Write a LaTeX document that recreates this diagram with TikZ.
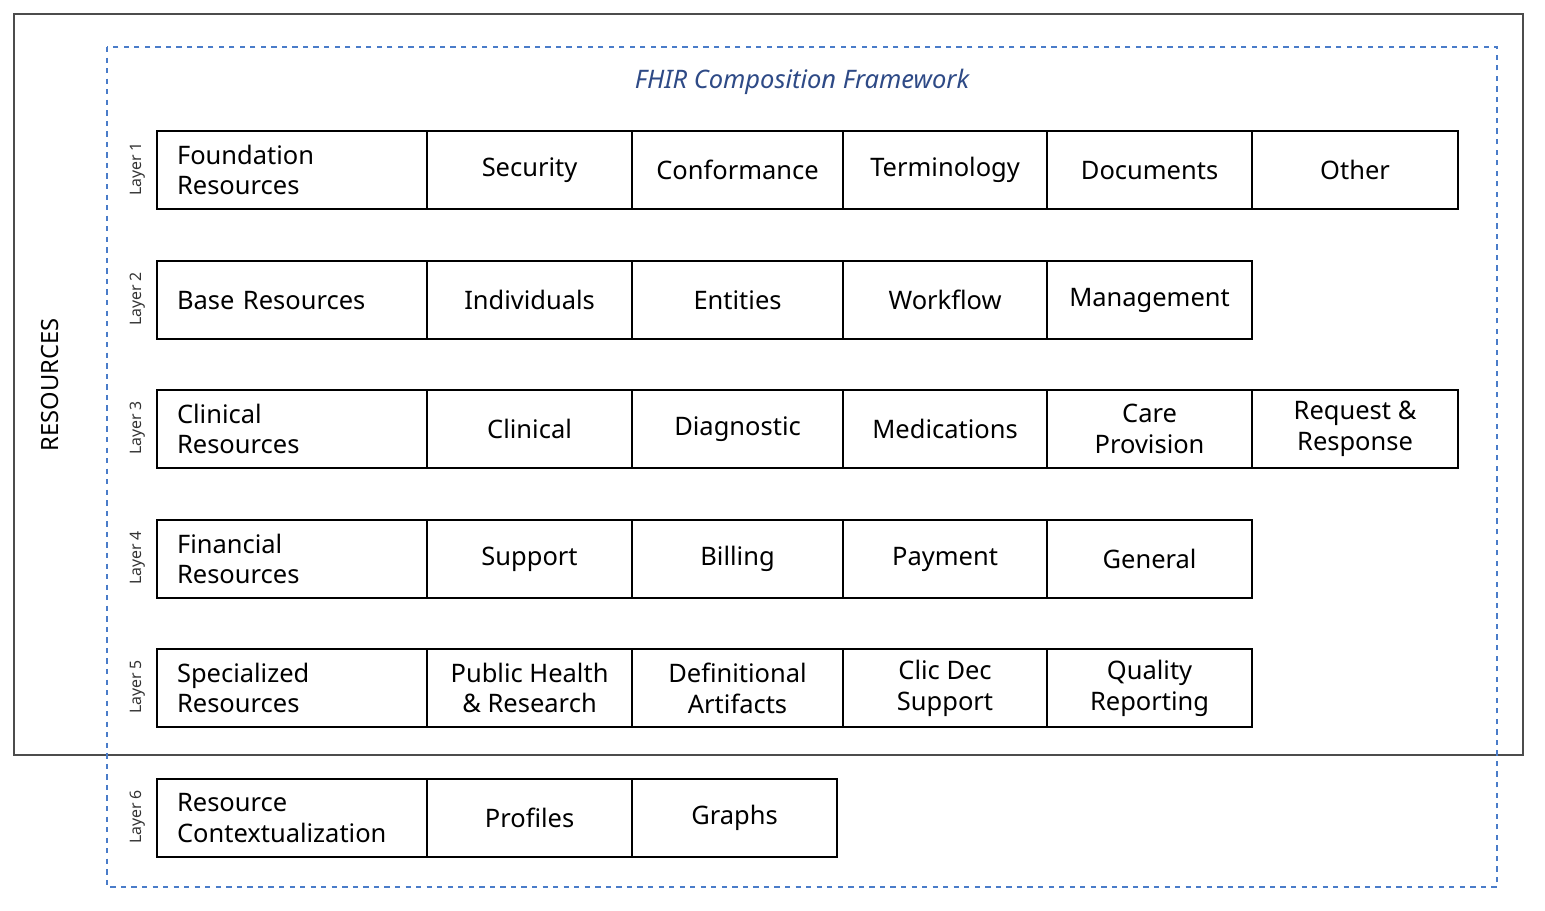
\documentclass[tikz,border=0pt]{standalone}
\usepackage{fontspec}
\setmainfont{Noto Sans}
\definecolor{dblue}{HTML}{4A7CC9}
\definecolor{tblue}{HTML}{2E4A86}
\begin{document}
\begin{tikzpicture}[x=0.02cm,y=-0.02cm,
  cell/.style={draw=black,line width=1.2pt,minimum height=78*0.02cm,inner sep=0pt,anchor=north west,align=center,font=\fontsize{14.5}{17.5}\selectfont},
  head/.style={cell,align=left,font=\fontsize{14.5}{17.5}\selectfont\bfseries},
  layer/.style={rotate=90,font=\fontsize{9}{10}\selectfont\bfseries,text=black!80}]
\useasboundingbox (0,0) rectangle (1545,911);
\draw[black!70,line width=1pt] (14,14) rectangle (1523,755);
\draw[dblue,dashed,line width=1pt] (107,47) rectangle (1497,887);
\node[text=tblue,font=\fontsize{14.5}{17}\selectfont\itshape] (title) at (802,82) {FHIR Composition Framework};
\node[rotate=90,font=\fontsize{13.5}{16}\selectfont] (res) at (50,385) {RESOURCES};
\def\cols{156/426,426/631,631/842,842/1046,1046/1251,1251/1457}
% helper widths
\newcommand{\hw}{270}
% Row 1
\node[head,minimum width=270*0.02cm,text width=230*0.02cm] (h1) at (156,130) {Foundation\\Resources};
\node[cell,minimum width=205*0.02cm] (a1) at (426,130) {Security};
\node[cell,minimum width=211*0.02cm] (b1) at (631,130) {Conformance};
\node[cell,minimum width=204*0.02cm] (c1) at (842,130) {Terminology};
\node[cell,minimum width=205*0.02cm] (d1) at (1046,130) {Documents};
\node[cell,minimum width=206*0.02cm] (e1) at (1251,130) {Other};
% Row 2
\node[head,minimum width=270*0.02cm,text width=230*0.02cm] (h2) at (156,260) {Base Resources};
\node[cell,minimum width=205*0.02cm] (a2) at (426,260) {Individuals};
\node[cell,minimum width=211*0.02cm] (b2) at (631,260) {Entities};
\node[cell,minimum width=204*0.02cm] (c2) at (842,260) {Workflow};
\node[cell,minimum width=205*0.02cm] (d2) at (1046,260) {Management};
% Row 3
\node[head,minimum width=270*0.02cm,text width=230*0.02cm] (h3) at (156,389) {Clinical\\Resources};
\node[cell,minimum width=205*0.02cm] (a3) at (426,389) {Clinical};
\node[cell,minimum width=211*0.02cm] (b3) at (631,389) {Diagnostic};
\node[cell,minimum width=204*0.02cm] (c3) at (842,389) {Medications};
\node[cell,minimum width=205*0.02cm] (d3) at (1046,389) {Care\\Provision};
\node[cell,minimum width=206*0.02cm] (e3) at (1251,389) {Request \&\\Response};
% Row 4
\node[head,minimum width=270*0.02cm,text width=230*0.02cm] (h4) at (156,519) {Financial\\Resources};
\node[cell,minimum width=205*0.02cm] (a4) at (426,519) {Support};
\node[cell,minimum width=211*0.02cm] (b4) at (631,519) {Billing};
\node[cell,minimum width=204*0.02cm] (c4) at (842,519) {Payment};
\node[cell,minimum width=205*0.02cm] (d4) at (1046,519) {General};
% Row 5
\node[head,minimum width=270*0.02cm,text width=230*0.02cm] (h5) at (156,648) {Specialized\\Resources};
\node[cell,minimum width=205*0.02cm] (a5) at (426,648) {Public Health\\\& Research};
\node[cell,minimum width=211*0.02cm] (b5) at (631,648) {Definitional\\Artifacts};
\node[cell,minimum width=204*0.02cm] (c5) at (842,648) {Clic Dec\\Support};
\node[cell,minimum width=205*0.02cm] (d5) at (1046,648) {Quality\\Reporting};
% Row 6
\node[head,minimum width=270*0.02cm,text width=230*0.02cm] (h6) at (156,778) {Resource\\Contextualization};
\node[cell,minimum width=205*0.02cm] (a6) at (426,778) {Profiles};
\node[cell,minimum width=205*0.02cm] (b6) at (631,778) {Graphs};
% Layer labels
\node[layer] (l1) at (138,169) {Layer 1};
\node[layer] (l2) at (138,299) {Layer 2};
\node[layer] (l3) at (138,428) {Layer 3};
\node[layer] (l4) at (138,558) {Layer 4};
\node[layer] (l5) at (138,687) {Layer 5};
\node[layer] (l6) at (138,817) {Layer 6};
\end{tikzpicture}
\end{document}
